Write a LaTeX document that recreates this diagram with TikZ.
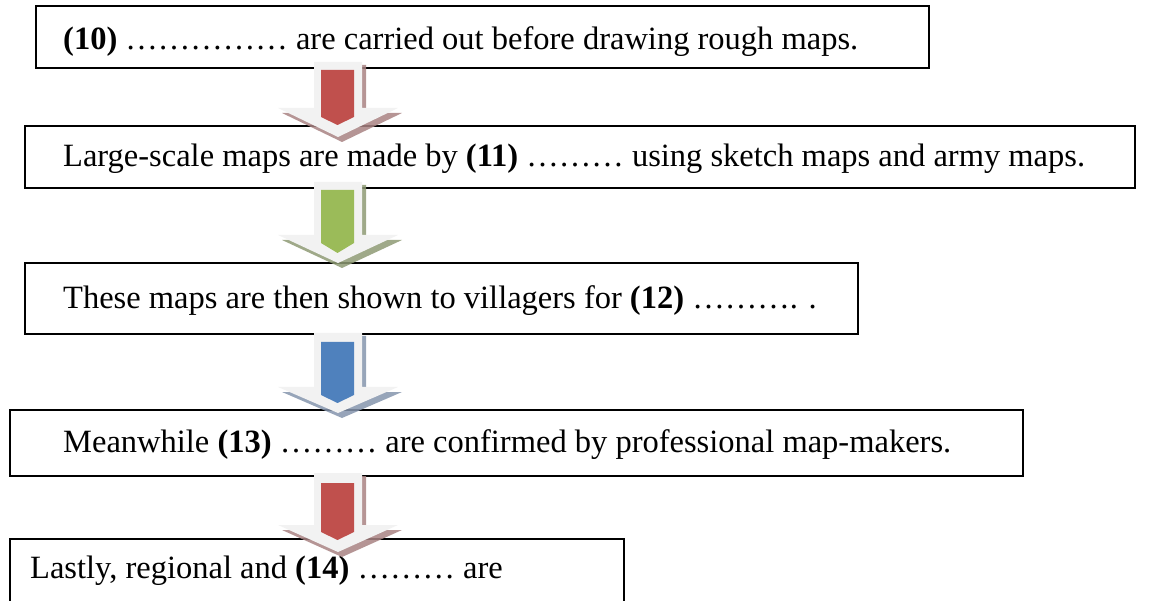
\documentclass[tikz,border=0pt]{standalone}
\usepackage{fontspec}
\setmainfont{Liberation Serif}
\definecolor{redA}{HTML}{C0504D}
\definecolor{redS}{HTML}{A98383}
\definecolor{greenA}{HTML}{9BBB59}
\definecolor{greenS}{HTML}{8E9A74}
\definecolor{blueA}{HTML}{4F81BD}
\definecolor{blueS}{HTML}{8595AD}
\definecolor{arrowbg}{HTML}{F2F2F2}
\newcommand\blkarrow[8]{%
  % #1 top, #2 head start, #3 tip, #4 inner top, #5 inner shaft bottom, #6 inner tip, #7 colour, #8 shadow
  \fill[#8,opacity=0.85] (318,#1+3) -- (366,#1+3) -- (366,#2+5) -- (402,#2+5) -- (342,#3+5) -- (282,#2+5) -- (318,#2+5) -- cycle;
  \fill[arrowbg] (314,#1) -- (362,#1) -- (362,#2) -- (398,#2) -- (338,#3) -- (278,#2) -- (314,#2) -- cycle;
  \fill[#7] (321,#4) -- (354,#4) -- (354,#5) -- (337.5,#6) -- (321,#5) -- cycle;
}
\tikzset{
  box/.style={draw=black, line width=1.8pt, fill=white, anchor=north west, inner sep=0pt},
  txt/.style={anchor=base west, inner sep=0pt, font=\fontsize{32.5}{38}\selectfont}
}
\begin{document}
\begin{tikzpicture}[x=1pt,y=-1pt]
\useasboundingbox (0,0) rectangle (1159,601);
\clip (0,0) rectangle (1159,601);
\node[box, minimum width=893pt, minimum height=62pt] (b1) at (35,5) {};
\node[box, minimum width=1110pt, minimum height=62pt] (b2) at (24,125) {};
\node[box, minimum width=833pt, minimum height=71pt] (b3) at (24,262) {};
\node[box, minimum width=1013pt, minimum height=66pt] (b4) at (9,409) {};
\node[box, minimum width=614pt, minimum height=90pt] (b5) at (9,538) {};
\node[txt] (t1) at (63,50) {\textbf{(10)} …………… are carried out before drawing rough maps.};
\node[txt] (t2) at (63,167) {Large-scale maps are made by \textbf{(11)} ……… using sketch maps and army maps.};
\node[txt] (t3) at (63,309) {These maps are then shown to villagers for \textbf{(12)} ………. .};
\node[txt] (t4) at (63,452) {Meanwhile \textbf{(13)} ……… are confirmed by professional map-makers.};
\node[txt] (t5) at (30,578) {Lastly, regional and \textbf{(14)} ……… are};
\blkarrow{62}{108}{137}{70}{117}{125}{redA}{redS}
\blkarrow{182}{235}{263}{190}{243}{253}{greenA}{greenS}
\blkarrow{333}{387}{413}{342}{395}{403}{blueA}{blueS}
\blkarrow{473}{525}{552}{483}{532}{540}{redA}{redS}
\end{tikzpicture}
\end{document}
